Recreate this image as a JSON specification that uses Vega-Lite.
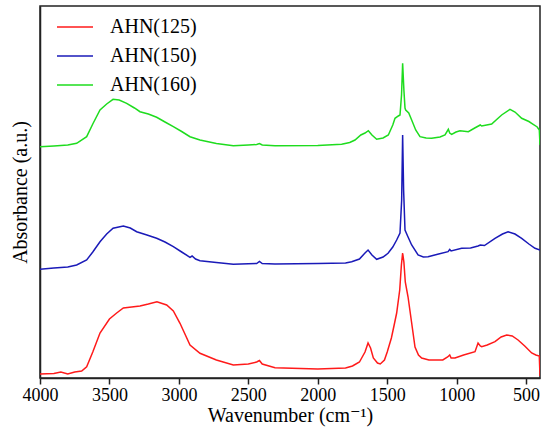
{
  "$schema": "https://vega.github.io/schema/vega-lite/v6.json",
  "width": 500,
  "height": 372,
  "autosize": "none",
  "padding": {"left": 40, "top": 6, "right": 10, "bottom": 62},
  "background": "white",
  "config": {
    "font": "Times New Roman, Liberation Serif, DejaVu Serif, serif",
    "style": {
      "guide-label": {"font": "Times New Roman, Liberation Serif, DejaVu Serif, serif"},
      "guide-title": {"font": "Times New Roman, Liberation Serif, DejaVu Serif, serif"}
    },
    "axis": {"labelFont": "Times New Roman, Liberation Serif, DejaVu Serif, serif", "titleFont": "Times New Roman, Liberation Serif, DejaVu Serif, serif"},
    "legend": {"labelFont": "Times New Roman, Liberation Serif, DejaVu Serif, serif"},
    "view": {"stroke": "#222", "strokeWidth": 1.5}
  },
  "data": {"values": [
    {"w": 4000, "a": 4, "s": "AHN(125)"}, {"w": 3900, "a": 4.5, "s": "AHN(125)"}, {"w": 3850, "a": 6, "s": "AHN(125)"},
    {"w": 3800, "a": 4, "s": "AHN(125)"}, {"w": 3750, "a": 6, "s": "AHN(125)"}, {"w": 3700, "a": 7, "s": "AHN(125)"},
    {"w": 3664, "a": 11.3, "s": "AHN(125)"}, {"w": 3620, "a": 26, "s": "AHN(125)"}, {"w": 3568, "a": 45, "s": "AHN(125)"},
    {"w": 3500, "a": 59, "s": "AHN(125)"}, {"w": 3448, "a": 65, "s": "AHN(125)"}, {"w": 3400, "a": 70, "s": "AHN(125)"},
    {"w": 3340, "a": 71, "s": "AHN(125)"}, {"w": 3280, "a": 72, "s": "AHN(125)"}, {"w": 3220, "a": 74, "s": "AHN(125)"},
    {"w": 3158, "a": 76.3, "s": "AHN(125)"}, {"w": 3088, "a": 73, "s": "AHN(125)"}, {"w": 3040, "a": 67, "s": "AHN(125)"},
    {"w": 2992, "a": 54.7, "s": "AHN(125)"}, {"w": 2920, "a": 33, "s": "AHN(125)"}, {"w": 2848, "a": 24.7, "s": "AHN(125)"},
    {"w": 2730, "a": 18, "s": "AHN(125)"}, {"w": 2608, "a": 13, "s": "AHN(125)"}, {"w": 2500, "a": 14, "s": "AHN(125)"},
    {"w": 2440, "a": 16, "s": "AHN(125)"}, {"w": 2420, "a": 17.5, "s": "AHN(125)"}, {"w": 2400, "a": 14, "s": "AHN(125)"},
    {"w": 2308, "a": 10.3, "s": "AHN(125)"}, {"w": 2000, "a": 9, "s": "AHN(125)"}, {"w": 1800, "a": 10, "s": "AHN(125)"},
    {"w": 1750, "a": 12, "s": "AHN(125)"}, {"w": 1700, "a": 16, "s": "AHN(125)"}, {"w": 1660, "a": 26, "s": "AHN(125)"},
    {"w": 1638, "a": 35, "s": "AHN(125)"}, {"w": 1620, "a": 30, "s": "AHN(125)"}, {"w": 1600, "a": 20, "s": "AHN(125)"},
    {"w": 1570, "a": 15, "s": "AHN(125)"}, {"w": 1550, "a": 14, "s": "AHN(125)"}, {"w": 1520, "a": 18, "s": "AHN(125)"},
    {"w": 1500, "a": 26, "s": "AHN(125)"}, {"w": 1470, "a": 40, "s": "AHN(125)"}, {"w": 1450, "a": 53, "s": "AHN(125)"},
    {"w": 1432, "a": 65, "s": "AHN(125)"}, {"w": 1410, "a": 88, "s": "AHN(125)"}, {"w": 1398, "a": 113, "s": "AHN(125)"},
    {"w": 1389, "a": 125, "s": "AHN(125)"}, {"w": 1380, "a": 116, "s": "AHN(125)"}, {"w": 1370, "a": 96, "s": "AHN(125)"},
    {"w": 1350, "a": 81, "s": "AHN(125)"}, {"w": 1325, "a": 56, "s": "AHN(125)"}, {"w": 1300, "a": 31, "s": "AHN(125)"},
    {"w": 1275, "a": 23, "s": "AHN(125)"}, {"w": 1252, "a": 20, "s": "AHN(125)"}, {"w": 1200, "a": 18, "s": "AHN(125)"},
    {"w": 1100, "a": 18, "s": "AHN(125)"}, {"w": 1065, "a": 21, "s": "AHN(125)"}, {"w": 1050, "a": 23, "s": "AHN(125)"},
    {"w": 1040, "a": 20, "s": "AHN(125)"}, {"w": 1012, "a": 20, "s": "AHN(125)"}, {"w": 950, "a": 23, "s": "AHN(125)"},
    {"w": 868, "a": 26.3, "s": "AHN(125)"}, {"w": 846, "a": 35, "s": "AHN(125)"}, {"w": 830, "a": 32, "s": "AHN(125)"},
    {"w": 820, "a": 31.3, "s": "AHN(125)"}, {"w": 780, "a": 33, "s": "AHN(125)"}, {"w": 724, "a": 36.3, "s": "AHN(125)"},
    {"w": 680, "a": 41, "s": "AHN(125)"}, {"w": 640, "a": 43, "s": "AHN(125)"}, {"w": 600, "a": 42, "s": "AHN(125)"},
    {"w": 558, "a": 38, "s": "AHN(125)"}, {"w": 510, "a": 32, "s": "AHN(125)"}, {"w": 460, "a": 25, "s": "AHN(125)"},
    {"w": 430, "a": 23, "s": "AHN(125)"}, {"w": 405, "a": 22, "s": "AHN(125)"}, {"w": 400, "a": 2, "s": "AHN(125)"},

    {"w": 4000, "a": 108.7, "s": "AHN(150)"}, {"w": 3900, "a": 110, "s": "AHN(150)"}, {"w": 3800, "a": 111, "s": "AHN(150)"},
    {"w": 3736, "a": 113, "s": "AHN(150)"}, {"w": 3664, "a": 118, "s": "AHN(150)"}, {"w": 3620, "a": 126, "s": "AHN(150)"},
    {"w": 3568, "a": 136.3, "s": "AHN(150)"}, {"w": 3520, "a": 144, "s": "AHN(150)"}, {"w": 3474, "a": 149.7, "s": "AHN(150)"},
    {"w": 3400, "a": 152, "s": "AHN(150)"}, {"w": 3350, "a": 150, "s": "AHN(150)"}, {"w": 3304, "a": 146.3, "s": "AHN(150)"},
    {"w": 3230, "a": 143, "s": "AHN(150)"}, {"w": 3160, "a": 139.7, "s": "AHN(150)"}, {"w": 3100, "a": 136, "s": "AHN(150)"},
    {"w": 3040, "a": 131.3, "s": "AHN(150)"}, {"w": 2980, "a": 126, "s": "AHN(150)"}, {"w": 2920, "a": 120.7, "s": "AHN(150)"},
    {"w": 2905, "a": 122, "s": "AHN(150)"}, {"w": 2880, "a": 119, "s": "AHN(150)"}, {"w": 2848, "a": 117.3, "s": "AHN(150)"},
    {"w": 2730, "a": 115.5, "s": "AHN(150)"}, {"w": 2608, "a": 113.7, "s": "AHN(150)"}, {"w": 2440, "a": 114.5, "s": "AHN(150)"},
    {"w": 2420, "a": 116.5, "s": "AHN(150)"}, {"w": 2400, "a": 114.5, "s": "AHN(150)"}, {"w": 2308, "a": 114, "s": "AHN(150)"},
    {"w": 2000, "a": 114.5, "s": "AHN(150)"}, {"w": 1800, "a": 115, "s": "AHN(150)"}, {"w": 1756, "a": 116.3, "s": "AHN(150)"},
    {"w": 1700, "a": 119, "s": "AHN(150)"}, {"w": 1660, "a": 125, "s": "AHN(150)"}, {"w": 1638, "a": 128, "s": "AHN(150)"},
    {"w": 1610, "a": 123, "s": "AHN(150)"}, {"w": 1576, "a": 118.7, "s": "AHN(150)"}, {"w": 1530, "a": 121, "s": "AHN(150)"},
    {"w": 1494, "a": 124.7, "s": "AHN(150)"}, {"w": 1460, "a": 131, "s": "AHN(150)"}, {"w": 1432, "a": 138, "s": "AHN(150)"},
    {"w": 1408, "a": 145, "s": "AHN(150)"}, {"w": 1396, "a": 178, "s": "AHN(150)"}, {"w": 1389, "a": 243, "s": "AHN(150)"},
    {"w": 1382, "a": 188, "s": "AHN(150)"}, {"w": 1372, "a": 148, "s": "AHN(150)"}, {"w": 1350, "a": 141, "s": "AHN(150)"},
    {"w": 1324, "a": 133, "s": "AHN(150)"}, {"w": 1278, "a": 123, "s": "AHN(150)"}, {"w": 1240, "a": 121, "s": "AHN(150)"},
    {"w": 1206, "a": 121.3, "s": "AHN(150)"}, {"w": 1130, "a": 124, "s": "AHN(150)"}, {"w": 1062, "a": 126.3, "s": "AHN(150)"},
    {"w": 1050, "a": 128.5, "s": "AHN(150)"}, {"w": 1040, "a": 127, "s": "AHN(150)"}, {"w": 964, "a": 129.7, "s": "AHN(150)"},
    {"w": 900, "a": 130, "s": "AHN(150)"}, {"w": 846, "a": 132, "s": "AHN(150)"}, {"w": 830, "a": 133, "s": "AHN(150)"},
    {"w": 800, "a": 132.5, "s": "AHN(150)"}, {"w": 724, "a": 139.7, "s": "AHN(150)"}, {"w": 670, "a": 144, "s": "AHN(150)"},
    {"w": 630, "a": 146.3, "s": "AHN(150)"}, {"w": 580, "a": 144, "s": "AHN(150)"}, {"w": 532, "a": 139.7, "s": "AHN(150)"},
    {"w": 480, "a": 134, "s": "AHN(150)"}, {"w": 436, "a": 129.7, "s": "AHN(150)"}, {"w": 400, "a": 128, "s": "AHN(150)"},

    {"w": 4000, "a": 231.3, "s": "AHN(160)"}, {"w": 3900, "a": 232, "s": "AHN(160)"}, {"w": 3800, "a": 233, "s": "AHN(160)"},
    {"w": 3736, "a": 234.7, "s": "AHN(160)"}, {"w": 3664, "a": 241.3, "s": "AHN(160)"}, {"w": 3620, "a": 254, "s": "AHN(160)"},
    {"w": 3568, "a": 268, "s": "AHN(160)"}, {"w": 3520, "a": 274, "s": "AHN(160)"}, {"w": 3474, "a": 278.7, "s": "AHN(160)"},
    {"w": 3430, "a": 278, "s": "AHN(160)"}, {"w": 3376, "a": 274.7, "s": "AHN(160)"}, {"w": 3320, "a": 270, "s": "AHN(160)"},
    {"w": 3280, "a": 266.3, "s": "AHN(160)"}, {"w": 3220, "a": 264, "s": "AHN(160)"}, {"w": 3160, "a": 260.7, "s": "AHN(160)"},
    {"w": 3100, "a": 256, "s": "AHN(160)"}, {"w": 3040, "a": 251.3, "s": "AHN(160)"}, {"w": 2980, "a": 246.5, "s": "AHN(160)"},
    {"w": 2920, "a": 241.3, "s": "AHN(160)"}, {"w": 2848, "a": 238, "s": "AHN(160)"}, {"w": 2730, "a": 234.5, "s": "AHN(160)"},
    {"w": 2608, "a": 232.3, "s": "AHN(160)"}, {"w": 2500, "a": 233, "s": "AHN(160)"}, {"w": 2440, "a": 233.5, "s": "AHN(160)"},
    {"w": 2420, "a": 234.5, "s": "AHN(160)"}, {"w": 2400, "a": 233, "s": "AHN(160)"}, {"w": 2308, "a": 232.3, "s": "AHN(160)"},
    {"w": 2000, "a": 232.5, "s": "AHN(160)"}, {"w": 1828, "a": 233.7, "s": "AHN(160)"}, {"w": 1770, "a": 235.5, "s": "AHN(160)"},
    {"w": 1732, "a": 238, "s": "AHN(160)"}, {"w": 1690, "a": 243, "s": "AHN(160)"}, {"w": 1660, "a": 245, "s": "AHN(160)"},
    {"w": 1636, "a": 247.3, "s": "AHN(160)"}, {"w": 1610, "a": 243, "s": "AHN(160)"}, {"w": 1576, "a": 238.7, "s": "AHN(160)"},
    {"w": 1530, "a": 240, "s": "AHN(160)"}, {"w": 1492, "a": 243, "s": "AHN(160)"}, {"w": 1460, "a": 253, "s": "AHN(160)"},
    {"w": 1444, "a": 259.7, "s": "AHN(160)"}, {"w": 1420, "a": 262, "s": "AHN(160)"}, {"w": 1408, "a": 263, "s": "AHN(160)"},
    {"w": 1397, "a": 283, "s": "AHN(160)"}, {"w": 1389, "a": 314.7, "s": "AHN(160)"}, {"w": 1380, "a": 288, "s": "AHN(160)"},
    {"w": 1372, "a": 270, "s": "AHN(160)"}, {"w": 1367, "a": 268, "s": "AHN(160)"}, {"w": 1345, "a": 265, "s": "AHN(160)"},
    {"w": 1324, "a": 258, "s": "AHN(160)"}, {"w": 1295, "a": 248, "s": "AHN(160)"}, {"w": 1264, "a": 241.3, "s": "AHN(160)"},
    {"w": 1220, "a": 240, "s": "AHN(160)"}, {"w": 1180, "a": 239.7, "s": "AHN(160)"}, {"w": 1120, "a": 241, "s": "AHN(160)"},
    {"w": 1084, "a": 243, "s": "AHN(160)"}, {"w": 1060, "a": 248.7, "s": "AHN(160)"}, {"w": 1050, "a": 245, "s": "AHN(160)"},
    {"w": 1036, "a": 243.7, "s": "AHN(160)"}, {"w": 1005, "a": 246, "s": "AHN(160)"}, {"w": 976, "a": 247.3, "s": "AHN(160)"},
    {"w": 916, "a": 246.3, "s": "AHN(160)"}, {"w": 870, "a": 250, "s": "AHN(160)"}, {"w": 830, "a": 253, "s": "AHN(160)"},
    {"w": 820, "a": 252, "s": "AHN(160)"}, {"w": 748, "a": 254, "s": "AHN(160)"}, {"w": 700, "a": 260, "s": "AHN(160)"},
    {"w": 676, "a": 263, "s": "AHN(160)"}, {"w": 616, "a": 268.7, "s": "AHN(160)"}, {"w": 580, "a": 266, "s": "AHN(160)"},
    {"w": 532, "a": 259.7, "s": "AHN(160)"}, {"w": 480, "a": 256.5, "s": "AHN(160)"}, {"w": 460, "a": 254.7, "s": "AHN(160)"},
    {"w": 420, "a": 251, "s": "AHN(160)"}, {"w": 405, "a": 248, "s": "AHN(160)"}, {"w": 400, "a": 233, "s": "AHN(160)"}
  ]},
  "mark": {"type": "line", "strokeWidth": 1.5, "clip": true},
  "encoding": {
    "x": {
      "field": "w",
      "type": "quantitative",
      "scale": {"domain": [4000, 400], "nice": false, "zero": false},
      "axis": {
        "title": "Wavenumber (cm⁻¹)",
        "values": [4000, 3500, 3000, 2500, 2000, 1500, 1000, 500],
        "format": "d",
        "grid": false,
        "labelFlush": false,
        "labelOverlap": false,
        "labelFontSize": 18,
        "labelColor": "#000",
        "labelPadding": 2,
        "tickSize": 6,
        "tickWidth": 1.5,
        "tickColor": "#222",
        "domainColor": "#222",
        "domainWidth": 1.5,
        "titleFontSize": 20,
        "titleFontWeight": "normal",
        "titleColor": "#000",
        "titlePadding": 1
      }
    },
    "y": {
      "field": "a",
      "type": "quantitative",
      "scale": {"domain": [0, 372], "nice": false},
      "axis": {
        "title": "Absorbance (a.u.)",
        "labels": false,
        "ticks": false,
        "grid": false,
        "domainColor": "#222",
        "domainWidth": 1.5,
        "titleFontSize": 20,
        "titleFontWeight": "normal",
        "titleColor": "#000",
        "titlePadding": 10
      }
    },
    "color": {
      "field": "s",
      "type": "nominal",
      "scale": {
        "domain": ["AHN(125)", "AHN(150)", "AHN(160)"],
        "range": ["#ff1a1a", "#1a1ab8", "#1edc1e"]
      },
      "legend": {
        "title": null,
        "orient": "none",
        "legendX": 16,
        "legendY": 2,
        "symbolType": "stroke",
        "symbolSize": 1300,
        "symbolStrokeWidth": 1.5,
        "labelFontSize": 20,
        "labelColor": "#000",
        "labelOffset": 16,
        "rowPadding": 0,
        "padding": 0
      }
    }
  }
}
